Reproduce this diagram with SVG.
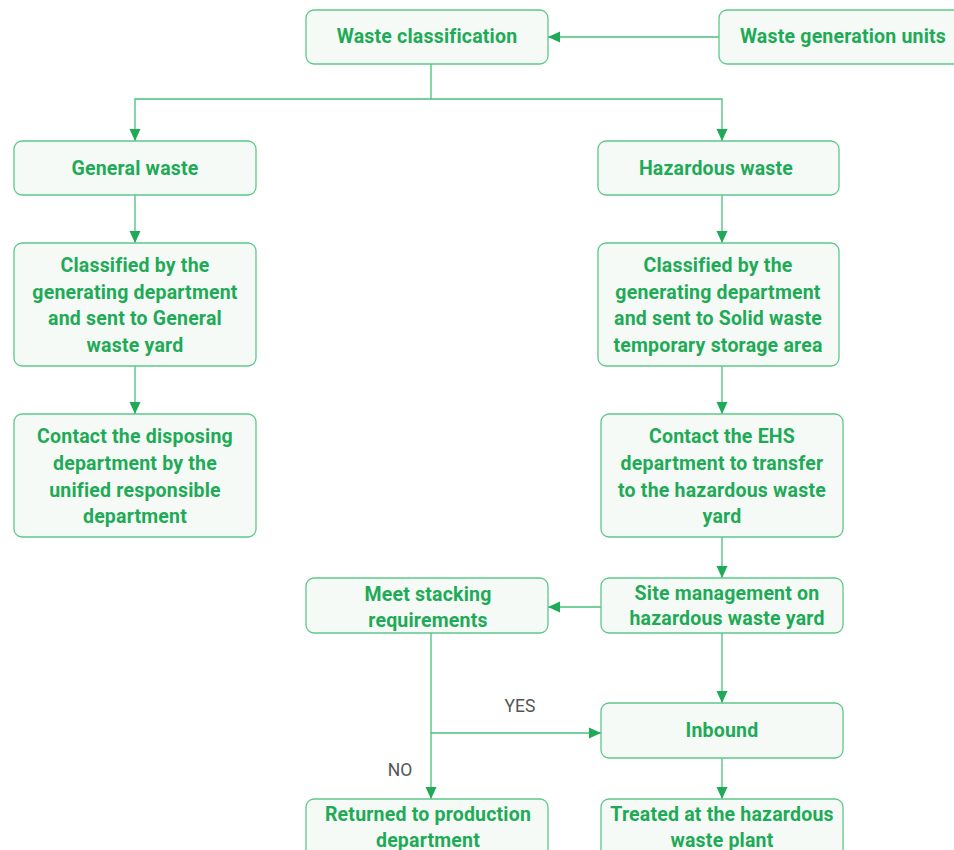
<svg xmlns="http://www.w3.org/2000/svg" width="954" height="850" viewBox="0 0 954 850">
<defs>
<style>
.box{fill:#f5faf6;stroke:#5cc98a;stroke-width:1.3}
.t{font-family:Roboto,"Liberation Sans",sans-serif;font-weight:700;font-size:19.5px;letter-spacing:0.2px;fill:#1faa57;text-anchor:middle}
.lbl{font-family:Roboto,"Liberation Sans",sans-serif;font-size:17.5px;fill:#555;text-anchor:middle}
.c{fill:none;stroke:#48c07c;stroke-width:1.3}
</style>
<marker id="ah" viewBox="0 0 12 12" refX="12" refY="6" markerWidth="12" markerHeight="12" markerUnits="userSpaceOnUse" orient="auto">
<path d="M0,0.5 L12,6 L0,11.5 z" fill="#1faa57"/>
</marker>
</defs>
<rect width="954" height="850" fill="#fff"/>
<g id="connectors">
<path class="c" d="M719,37 H548" marker-end="url(#ah)"/>
<path class="c" d="M431,64 V99 H135 V141" marker-end="url(#ah)"/>
<path class="c" d="M431,99 H722 V141" marker-end="url(#ah)"/>
<path class="c" d="M135,195 V243" marker-end="url(#ah)"/>
<path class="c" d="M722,195 V243" marker-end="url(#ah)"/>
<path class="c" d="M135,366 V414" marker-end="url(#ah)"/>
<path class="c" d="M722,366 V414" marker-end="url(#ah)"/>
<path class="c" d="M722,537 V578" marker-end="url(#ah)"/>
<path class="c" d="M601,607 H548" marker-end="url(#ah)"/>
<path class="c" d="M722,633 V703" marker-end="url(#ah)"/>
<path class="c" d="M431,633 V799" marker-end="url(#ah)"/>
<path class="c" d="M431,733 H601" marker-end="url(#ah)"/>
<path class="c" d="M722,758 V799" marker-end="url(#ah)"/>
<text class="lbl" x="520" y="712">YES</text>
<text class="lbl" x="400" y="776">NO</text>
</g>
<g id="waste-classification"><rect class="box" x="306" y="10" width="242" height="54" rx="8"/><text class="t" x="427" y="43">Waste classification</text></g>
<g id="waste-generation-units"><rect class="box" x="719" y="10" width="245" height="54" rx="8"/><text class="t" x="843" y="43">Waste generation units</text></g>
<g id="general-waste"><rect class="box" x="14" y="141" width="242" height="54" rx="8"/><text class="t" x="135" y="175">General waste</text></g>
<g id="hazardous-waste"><rect class="box" x="598" y="141" width="241" height="54" rx="8"/><text class="t" x="716" y="175">Hazardous waste</text></g>
<g id="classified-general"><rect class="box" x="14" y="243" width="242" height="123" rx="8"/><text class="t" x="135" y="272">Classified by the</text><text class="t" x="135" y="299">generating department</text><text class="t" x="135" y="325">and sent to General</text><text class="t" x="135" y="352">waste yard</text></g>
<g id="classified-hazardous"><rect class="box" x="598" y="243" width="241" height="123" rx="8"/><text class="t" x="718" y="272">Classified by the</text><text class="t" x="718" y="299">generating department</text><text class="t" x="718" y="325">and sent to Solid waste</text><text class="t" x="718" y="352">temporary storage area</text></g>
<g id="contact-disposing"><rect class="box" x="14" y="414" width="242" height="123" rx="8"/><text class="t" x="135" y="443">Contact the disposing</text><text class="t" x="135" y="470">department by the</text><text class="t" x="135" y="497">unified responsible</text><text class="t" x="135" y="523">department</text></g>
<g id="contact-ehs"><rect class="box" x="601" y="414" width="242" height="123" rx="8"/><text class="t" x="722" y="443">Contact the EHS</text><text class="t" x="722" y="470">department to transfer</text><text class="t" x="722" y="497">to the hazardous waste</text><text class="t" x="722" y="523">yard</text></g>
<g id="meet-stacking"><rect class="box" x="306" y="578" width="242" height="55" rx="8"/><text class="t" x="428" y="601">Meet stacking</text><text class="t" x="428" y="627">requirements</text></g>
<g id="site-management"><rect class="box" x="601" y="578" width="242" height="55" rx="8"/><text class="t" x="727" y="600">Site management on</text><text class="t" x="727" y="625">hazardous waste yard</text></g>
<g id="inbound"><rect class="box" x="601" y="703" width="242" height="55" rx="8"/><text class="t" x="722" y="737">Inbound</text></g>
<g id="returned"><rect class="box" x="306" y="799" width="242" height="60" rx="8"/><text class="t" x="428" y="821">Returned to production</text><text class="t" x="428" y="847">department</text></g>
<g id="treated"><rect class="box" x="601" y="799" width="242" height="60" rx="8"/><text class="t" x="722" y="821">Treated at the hazardous</text><text class="t" x="722" y="847">waste plant</text></g>
</svg>
